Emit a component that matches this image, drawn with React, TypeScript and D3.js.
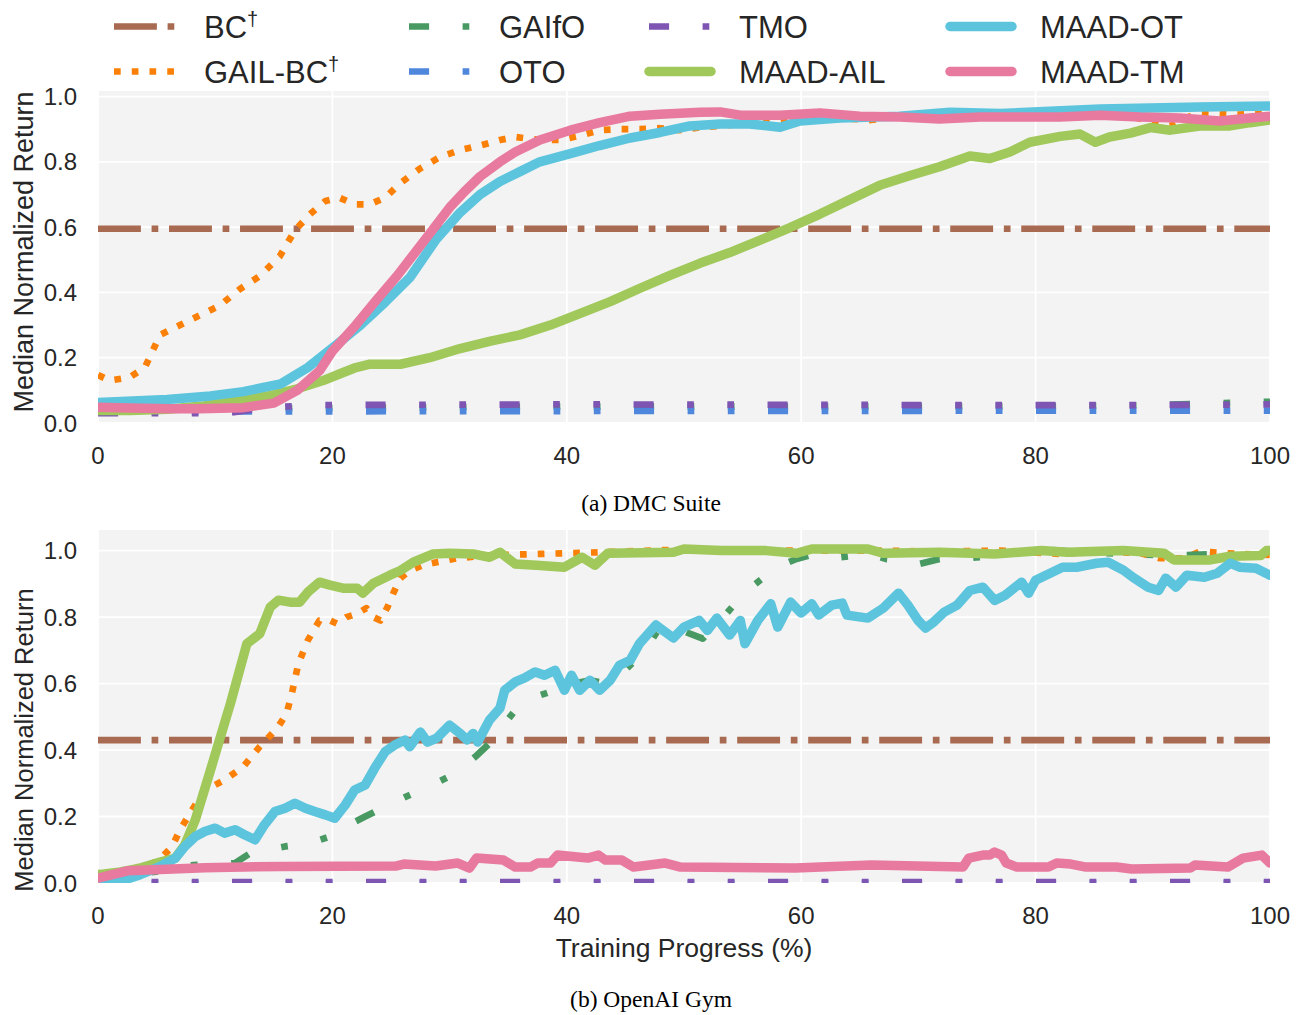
import React from 'react';
import * as d3 from 'd3';

type Pt = [number, number];

// ---------- legend / series meta ----------
const methodNames = ['BC', 'GAIL-BC', 'GAIfO', 'OTO', 'TMO', 'MAAD-AIL', 'MAAD-OT', 'MAAD-TM'];
const methodDagger = [true, true, false, false, false, false, false, false];
const methodColors = ['#a86a50', '#fa8008', '#489a62', '#4f87dd', '#7e55b3', '#a0c85a', '#5cc4dc', '#e87aa0'];

const xTickValues = [0, 20, 40, 60, 80, 100];
const yTickValues = [0, 0.2, 0.4, 0.6, 0.8, 1.0];

const panelCaptions = ['(a) DMC Suite', '(b) OpenAI Gym'];
const xAxisTitle = 'Training Progress (%)';
const yAxisTitle = 'Median Normalized Return';

// ---------- (a) DMC Suite ----------
const dmcBC = 0.595;
const dmcGailBC: Pt[] = [
  [0, 0.147], [1.0, 0.13], [2.7, 0.14], [4.0, 0.17], [5.3, 0.27], [7.0, 0.3], [8.7, 0.33], [10.4, 0.36],
  [12.1, 0.41], [13.8, 0.45], [15.5, 0.51], [16.8, 0.59], [18.1, 0.64], [19.4, 0.68], [20.6, 0.69],
  [21.9, 0.67], [23.2, 0.67], [24.5, 0.69], [25.8, 0.735], [27.5, 0.78], [29.2, 0.815], [30.9, 0.836],
  [32.6, 0.85], [34.3, 0.867], [35.6, 0.876], [36.9, 0.87], [38.1, 0.867], [39.4, 0.867], [41.1, 0.88],
  [42.8, 0.897], [44.5, 0.9], [46.2, 0.9], [47.9, 0.903], [49.6, 0.897], [51.4, 0.906], [53.1, 0.91],
  [54.8, 0.916], [56.5, 0.92], [58.2, 0.925], [59.9, 0.934], [61.6, 0.931], [63.3, 0.934], [65.9, 0.928],
  [68.4, 0.94], [72.7, 0.94], [77.0, 0.95], [81.2, 0.947], [85.5, 0.95], [88, 0.94], [89.8, 0.925],
  [91.5, 0.91], [92.5, 0.93], [94.0, 0.95], [97, 0.945], [100, 0.946],
];
const dmcGaifo: Pt[] = [[0, 0.04], [14, 0.045], [40, 0.05], [80, 0.05], [90, 0.055], [100, 0.065]];
const dmcOto: Pt[] = [[0, 0.035], [50, 0.037], [100, 0.038]];
const dmcTmo: Pt[] = [[0, 0.03], [11, 0.03], [14, 0.045], [18, 0.055], [40, 0.057], [70, 0.055], [90, 0.055], [100, 0.057]];
const dmcAil: Pt[] = [
  [0, 0.038], [2.7, 0.038], [5.9, 0.042], [9, 0.052], [12.4, 0.07], [15.0, 0.086], [17.0, 0.105], [19.2, 0.13],
  [20.6, 0.15], [22, 0.17], [23.2, 0.18], [25.8, 0.18], [28.3, 0.2], [30.9, 0.228], [33.4, 0.25], [36.0, 0.27],
  [38.6, 0.3], [41.1, 0.335], [43.7, 0.372], [46.2, 0.412], [48.8, 0.452], [51.4, 0.49], [53.9, 0.522],
  [56.5, 0.56], [59.0, 0.598], [61.6, 0.64], [64.2, 0.685], [66.7, 0.728], [69.3, 0.758], [71.8, 0.785],
  [74.4, 0.818], [76.1, 0.81], [77.8, 0.83], [79.5, 0.86], [82.1, 0.878], [83.8, 0.885], [85.1, 0.86],
  [86.3, 0.876], [88.1, 0.888], [89.8, 0.905], [91.5, 0.897], [94.0, 0.91], [96.6, 0.91], [98.3, 0.92], [100, 0.928],
];
const dmcOt: Pt[] = [
  [0, 0.063], [5.9, 0.072], [9.6, 0.083], [12.4, 0.096], [15.6, 0.12], [17.9, 0.17], [20.0, 0.23], [22.4, 0.3],
  [24.5, 0.37], [26.6, 0.445], [28.8, 0.56], [30.9, 0.645], [32.6, 0.7], [34.3, 0.74], [36, 0.77], [37.7, 0.8],
  [40.3, 0.825], [42.8, 0.85], [45.4, 0.873], [47.95, 0.89], [50.5, 0.91], [53.1, 0.916], [55.6, 0.916],
  [58.2, 0.906], [59.9, 0.925], [63.3, 0.934], [68.4, 0.94], [72.7, 0.952], [77.0, 0.948], [81.2, 0.955],
  [85.5, 0.962], [89.8, 0.965], [94.0, 0.968], [100, 0.971],
];
const dmcTm: Pt[] = [
  [0, 0.048], [2.7, 0.046], [6.1, 0.044], [8.7, 0.044], [11.3, 0.046], [12.4, 0.047], [15.0, 0.061], [17.0, 0.1],
  [18.9, 0.16], [20.0, 0.22], [22.0, 0.3], [23.6, 0.37], [25.5, 0.45], [28.3, 0.58], [30.0, 0.66], [31.3, 0.71],
  [32.6, 0.755], [34.3, 0.8], [35.6, 0.83], [37.7, 0.867], [40.3, 0.897], [42.8, 0.92], [45.4, 0.94],
  [47.95, 0.946], [51.4, 0.952], [53.1, 0.953], [54.8, 0.943], [58.2, 0.943], [61.6, 0.95], [65.0, 0.94],
  [68.4, 0.937], [71.8, 0.931], [75.3, 0.937], [78.7, 0.937], [82.1, 0.937], [85.5, 0.943], [88.9, 0.937],
  [92.3, 0.934], [95.7, 0.925], [98.3, 0.934], [100, 0.94],
];

// ---------- (b) OpenAI Gym ----------
const gymBC = 0.43;
const gymGailBC: Pt[] = [
  [0, 0.02], [2.6, 0.035], [3.4, 0.048], [4.5, 0.054], [5.5, 0.08], [6.3, 0.108], [7.0, 0.16], [8.3, 0.235],
  [9.1, 0.28], [10.0, 0.295], [10.8, 0.31], [12.4, 0.35], [13.8, 0.41], [15.3, 0.466], [16.1, 0.51], [16.6, 0.58],
  [17.1, 0.66], [17.9, 0.73], [18.9, 0.79], [19.8, 0.79], [20.4, 0.78], [21.2, 0.8], [22.1, 0.81], [22.9, 0.827],
  [23.5, 0.8], [24.1, 0.79], [24.7, 0.83], [25.2, 0.872], [25.8, 0.917], [26.6, 0.94], [27.7, 0.956],
  [28.9, 0.965], [30.6, 0.977], [33.4, 0.986], [37.7, 0.99], [42.8, 0.995], [47.1, 1.0], [51.4, 1.005],
  [56.5, 1.0], [61.6, 1.0], [66.7, 1.0], [71.8, 0.997], [76.96, 1.0], [82.1, 0.99], [85.5, 0.997], [88.9, 0.993],
  [90.6, 0.977], [92.7, 0.977], [94.0, 0.997], [97.4, 0.99], [100, 0.987],
];
const gymGaifo: Pt[] = [
  [0, 0.03], [1.9, 0.025], [5.3, 0.035], [8.1, 0.054], [11.7, 0.06], [13.0, 0.09], [15.96, 0.11], [18.1, 0.12],
  [19.8, 0.14], [21.1, 0.17], [22.8, 0.2], [24.5, 0.23], [26.6, 0.265], [28.8, 0.3], [30.5, 0.33], [32.2, 0.38],
  [33.4, 0.42], [35.6, 0.52], [37.3, 0.56], [39.0, 0.58], [40.7, 0.6], [41.98, 0.61], [43.3, 0.6], [44.97, 0.64],
  [46.7, 0.7], [47.95, 0.77], [49.2, 0.77], [50.5, 0.75], [51.6, 0.735], [53.1, 0.79], [54.6, 0.85], [56.1, 0.9],
  [57.2, 0.93], [58.6, 0.96], [59.6, 0.975], [61.2, 0.99], [63.3, 0.98], [65.9, 0.99], [67.2, 0.975],
  [68.9, 0.97], [70.1, 0.96], [71.8, 0.975], [73.5, 0.975], [76.96, 0.986], [80.4, 1.005], [83.8, 0.995],
  [88.1, 0.99], [91.5, 0.985], [95.3, 0.99], [97.4, 0.985], [100, 0.99],
];
const gymOto: Pt[] = [[0, 0.0], [100, 0.0]];
const gymTmo: Pt[] = [[0, 0.003], [100, 0.003]];
const gymAil: Pt[] = [
  [0, 0.025], [1.9, 0.033], [3.6, 0.045], [5.3, 0.063], [6.6, 0.075], [7.4, 0.114], [8.3, 0.19], [9.6, 0.34],
  [11.3, 0.54], [12.7, 0.72], [13.8, 0.75], [14.7, 0.83], [15.4, 0.851], [16.4, 0.845], [17.2, 0.845],
  [17.9, 0.875], [18.9, 0.905], [19.8, 0.896], [20.9, 0.887], [22.1, 0.887], [22.6, 0.872], [23.5, 0.902],
  [24.9, 0.926], [25.8, 0.94], [26.9, 0.965], [28.6, 0.99], [30.0, 0.992], [32.0, 0.99], [33.4, 0.98],
  [34.3, 0.995], [35.6, 0.96], [37.4, 0.956], [39.8, 0.95], [41.3, 0.98], [42.4, 0.956], [43.5, 0.992],
  [49.1, 0.995], [50.0, 1.005], [53.2, 1.0], [57.0, 1.0], [59.6, 0.992], [60.9, 1.005], [65.7, 1.005],
  [67.0, 0.992], [71.8, 0.995], [76.5, 0.99], [80.5, 1.0], [82.7, 0.995], [87.5, 1.0], [90.96, 0.992],
  [91.8, 0.972], [94.9, 0.972], [96.6, 0.983], [99.2, 0.985], [99.7, 1.0], [100, 1.0],
];
const gymOt: Pt[] = [
  [0, 0.01], [1.9, 0.005], [3.6, 0.025], [5.3, 0.05], [6.6, 0.075], [7.4, 0.11], [8.3, 0.14], [9.1, 0.155],
  [10.0, 0.165], [10.8, 0.15], [11.7, 0.16], [12.5, 0.145], [13.4, 0.13], [14.2, 0.175], [15.1, 0.215],
  [15.96, 0.225], [16.8, 0.24], [17.7, 0.225], [18.5, 0.215], [19.4, 0.205], [20.2, 0.195], [21.1, 0.235],
  [21.9, 0.28], [22.8, 0.295], [23.6, 0.345], [24.5, 0.395], [25.3, 0.415], [26.2, 0.43], [26.6, 0.41],
  [27.5, 0.454], [28.1, 0.424], [28.9, 0.436], [30.0, 0.475], [30.9, 0.45], [31.5, 0.43], [32.0, 0.45],
  [32.4, 0.424], [33.4, 0.49], [34.3, 0.526], [34.7, 0.58], [35.6, 0.605], [36.4, 0.617], [37.3, 0.635],
  [38.1, 0.625], [39.0, 0.64], [39.8, 0.58], [40.4, 0.625], [41.1, 0.58], [41.98, 0.61], [42.8, 0.58],
  [43.7, 0.61], [44.5, 0.655], [45.4, 0.67], [46.2, 0.72], [47.6, 0.776], [49.1, 0.737], [50.0, 0.77],
  [51.3, 0.79], [52.0, 0.76], [52.8, 0.797], [53.9, 0.746], [54.8, 0.79], [55.2, 0.72], [56.3, 0.79],
  [57.4, 0.84], [58.0, 0.77], [59.1, 0.845], [59.98, 0.812], [60.9, 0.84], [61.5, 0.806], [62.6, 0.836],
  [63.5, 0.842], [63.9, 0.806], [65.7, 0.797], [67.0, 0.827], [68.3, 0.872], [69.1, 0.836], [69.97, 0.79],
  [70.6, 0.767], [71.3, 0.785], [72.2, 0.815], [73.3, 0.836], [74.4, 0.88], [75.5, 0.89], [76.5, 0.85],
  [77.4, 0.866], [78.8, 0.905], [79.4, 0.872], [80.0, 0.911], [82.3, 0.95], [83.5, 0.95], [85.2, 0.962],
  [86.2, 0.965], [87.5, 0.941], [88.3, 0.92], [89.6, 0.89], [90.5, 0.88], [91.1, 0.917], [91.98, 0.89],
  [92.9, 0.926], [94.4, 0.92], [95.5, 0.932], [96.6, 0.962], [97.4, 0.95], [98.8, 0.947], [100, 0.926],
];
const gymTm: Pt[] = [
  [0, 0.015], [2.6, 0.037], [9.1, 0.046], [15.7, 0.05], [25.4, 0.051], [26.1, 0.057], [28.8, 0.051],
  [30.7, 0.06], [31.7, 0.045], [32.3, 0.075], [34.6, 0.069], [35.6, 0.048], [36.9, 0.048], [37.5, 0.06],
  [38.6, 0.06], [39.2, 0.084], [40.9, 0.078], [41.8, 0.075], [42.7, 0.084], [43.3, 0.069], [44.7, 0.069],
  [45.7, 0.048], [48.4, 0.06], [49.7, 0.048], [59.5, 0.045], [66.0, 0.054], [73.8, 0.048], [74.3, 0.075],
  [75.5, 0.084], [76.1, 0.084], [76.5, 0.093], [77.1, 0.084], [77.5, 0.06], [78.4, 0.048], [81.1, 0.048],
  [81.8, 0.06], [83.0, 0.057], [84.3, 0.048], [86.9, 0.048], [88.2, 0.042], [93.2, 0.045], [93.6, 0.054],
  [96.4, 0.048], [97.7, 0.075], [99.3, 0.084], [100, 0.06],
];

const dmcSeries: Pt[][] = [[[0, dmcBC], [100, dmcBC]], dmcGailBC, dmcGaifo, dmcOto, dmcTmo, dmcAil, dmcOt, dmcTm];
const gymSeries: Pt[][] = [[[0, gymBC], [100, gymBC]], gymGailBC, gymGaifo, gymOto, gymTmo, gymAil, gymOt, gymTm];

// ---------- styles ----------
const THIN = 6.7;
const THICK = 9.5;
const patterns: Record<string, number[] | null> = {
  dashdot: [6.4, 1.6, 1, 1.6],
  dotted: [1, 1.65],
  dashdotdot: [3, 5, 1, 5, 1, 5],
  solid: null,
};
const methodPattern = ['dashdot', 'dotted', 'dashdotdot', 'dashdotdot', 'dashdotdot', 'solid', 'solid', 'solid'];

function lineStyle(i: number) {
  const p = patterns[methodPattern[i]];
  const w = p ? THIN : THICK;
  return {
    stroke: methodColors[i],
    strokeWidth: w,
    strokeDasharray: p ? p.map((v) => (v * w).toFixed(2)).join(' ') : undefined,
    strokeLinecap: (p ? 'butt' : 'round') as any,
    strokeLinejoin: 'round' as any,
    fill: 'none',
  };
}

const SANS = '"Liberation Sans", Arial, Helvetica, sans-serif';
const SERIF = '"Liberation Serif", "Times New Roman", serif';
const TEXT = '#262626';

const X0 = 98;
const X1 = 1270;

interface PanelCfg {
  id: string;
  top: number;
  bottom: number;
  yMax: number;
  series: Pt[][];
  caption: string;
  captionY: number;
  yTitleY: number;
  yTitleSize: number;
  showXTitle: boolean;
}

function Panel({ cfg }: { cfg: PanelCfg }) {
  const x = d3.scaleLinear().domain([0, 100]).range([X0, X1]);
  const y = d3.scaleLinear().domain([0, cfg.yMax]).range([cfg.bottom, cfg.top]);
  const line = d3.line<Pt>().x((d) => x(d[0])).y((d) => y(d[1]));
  const clipId = `clip-${cfg.id}`;
  return (
    <g>
      <defs>
        <clipPath id={clipId}>
          <rect x={X0} y={cfg.top} width={X1 - X0} height={cfg.bottom - cfg.top} />
        </clipPath>
      </defs>
      <rect x={X0} y={cfg.top} width={X1 - X0} height={cfg.bottom - cfg.top} fill="#f3f3f3" />
      {xTickValues.map((t) => (
        <line key={'gx' + t} x1={x(t)} x2={x(t)} y1={cfg.top} y2={cfg.bottom} stroke="#ffffff" strokeWidth={1.8} />
      ))}
      {yTickValues.map((t) => (
        <line key={'gy' + t} x1={X0} x2={X1} y1={y(t)} y2={y(t)} stroke="#ffffff" strokeWidth={1.8} />
      ))}
      <g clipPath={`url(#${clipId})`}>
        {cfg.series.map((s, i) => (
          <path key={i} d={line(s) || ''} {...lineStyle(i)} />
        ))}
      </g>
      {yTickValues.map((t) => (
        <text key={'ty' + t} x={77} y={y(t)} dy="0.36em" textAnchor="end" fontFamily={SANS} fontSize={24} fill={TEXT}>
          {d3.format('.1f')(t)}
        </text>
      ))}
      {xTickValues.map((t) => (
        <text key={'tx' + t} x={x(t)} y={cfg.bottom + 41} textAnchor="middle" fontFamily={SANS} fontSize={24} fill={TEXT}>
          {d3.format('d')(t)}
        </text>
      ))}
      <text
        transform={`translate(33,${cfg.yTitleY}) rotate(-90)`}
        textAnchor="middle"
        fontFamily={SANS}
        fontSize={cfg.yTitleSize}
        fill={TEXT}
      >
        {yAxisTitle}
      </text>
      {cfg.showXTitle && (
        <text x={(X0 + X1) / 2} y={957} textAnchor="middle" fontFamily={SANS} fontSize={26.5} fill={TEXT}>
          {xAxisTitle}
        </text>
      )}
      <text x={651} y={cfg.captionY} textAnchor="middle" fontFamily={SERIF} fontSize={23.5} fill="#000">
        {cfg.caption}
      </text>
    </g>
  );
}

const legendColStarts = [114, 409, 649, 950];
const legendRowY = [26.5, 71.5];

function Legend() {
  return (
    <g>
      {methodNames.map((name, i) => {
        const col = Math.floor(i / 2);
        const row = i % 2;
        const sx = legendColStarts[col];
        const ly = legendRowY[row];
        return (
          <g key={name}>
            <line x1={sx} x2={sx + 62} y1={ly} y2={ly} {...lineStyle(i)} />
            <text x={sx + 90} y={ly + 11.5} fontFamily={SANS} fontSize={31} fill={TEXT}>
              {name}
              {methodDagger[i] && (
                <tspan fontSize={20} dy={-12}>
                  †
                </tspan>
              )}
            </text>
          </g>
        );
      })}
    </g>
  );
}

export default function App() {
  const panels: PanelCfg[] = [
    { id: 'dmc', top: 91, bottom: 423, yMax: 1.017, series: dmcSeries, caption: panelCaptions[0], captionY: 511, yTitleY: 252, yTitleSize: 27, showXTitle: false },
    { id: 'gym', top: 530, bottom: 883, yMax: 1.062, series: gymSeries, caption: panelCaptions[1], captionY: 1007, yTitleY: 740, yTitleSize: 25.5, showXTitle: true },
  ];
  return (
    <svg
      width={1304}
      height={1015}
      viewBox="0 0 1304 1015"
      style={{ position: 'absolute', left: 0, top: 0, background: '#ffffff' }}
    >
      <rect x={0} y={0} width={1304} height={1015} fill="#ffffff" />
      {panels.map((p) => (
        <Panel key={p.id} cfg={p} />
      ))}
      <Legend />
    </svg>
  );
}
